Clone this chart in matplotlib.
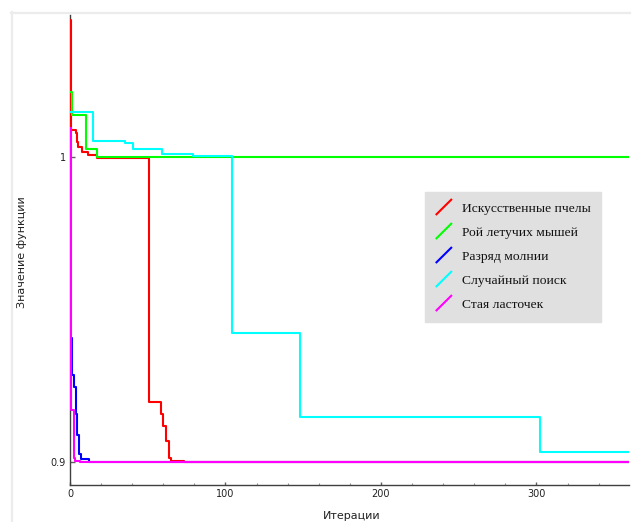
import matplotlib
matplotlib.use("Agg")
import matplotlib.pyplot as plt
from matplotlib.lines import Line2D
from matplotlib.legend_handler import HandlerLine2D
from matplotlib.ticker import FixedLocator, MultipleLocator

# ---- data (best-so-far value per iteration, step curves) ----
labels = ["Искусственные пчелы", "Рой летучих мышей", "Разряд молнии",
          "Случайный поиск", "Стая ласточек"]
colors = ["#ff0000", "#00ff00", "#0000ff", "#00ffff", "#ff00ff"]

bee_x = [0, 0.6, 3.9, 4.6, 5.4, 7.5, 11.8, 17.2, 51.1, 58.4, 60.0, 61.8, 63.7, 65.2, 73, 359.5]
bee_y = [1.045, 1.0089, 1.0079, 1.0050, 1.0034, 1.0017, 1.0007, 0.9998, 0.9198, 0.9160,
         0.9120, 0.9070, 0.9015, 0.9005, 0.9, 0.9]

bat_x = [0, 1.0, 10.4, 17.4, 359.5]
bat_y = [1.0214, 1.0138, 1.0027, 1.0, 1.0]

lightning_x = [0, 1.0, 2.4, 4.0, 4.5, 5.5, 7.1, 12.5, 359.5]
lightning_y = [0.9406, 0.9286, 0.9246, 0.9160, 0.9089, 0.9029, 0.9010, 0.9, 0.9]

random_x = [0, 14.5, 35.4, 40.7, 59.4, 79.3, 104.5, 148.2, 302.0, 359.5]
random_y = [1.0146, 1.0052, 1.0047, 1.0025, 1.0009, 1.0004, 0.9423, 0.9148, 0.9033, 0.9033]

swallow_x = [0, 0.4, 2.4, 3.4, 6.4, 359.5]
swallow_y = [1.0094, 0.9171, 0.9013, 0.9005, 0.9, 0.9]

series_x = [bee_x, bat_x, lightning_x, random_x, swallow_x]
series_y = [bee_y, bat_y, lightning_y, random_y, swallow_y]

x_ticks = [0, 100, 200, 300]
y_ticks = [0.9, 1.0]
y_tick_labels = ["0.9", "1"]


class DiagonalHandler(HandlerLine2D):
    def create_artists(self, legend, orig_handle, xdescent, ydescent,
                       width, height, fontsize, trans):
        ext = 0.35 * height
        line = Line2D([-xdescent, -xdescent + width],
                      [-ydescent - ext, -ydescent + height + ext],
                      color=orig_handle.get_color(), lw=orig_handle.get_linewidth(),
                      solid_capstyle="butt")
        line.set_transform(trans)
        return [line]


fig = plt.figure(figsize=(6.42, 5.22), dpi=100)
ax = fig.add_axes([70 / 642, 37 / 522, 559 / 642, 470 / 522])

handles = []
for xs, ys, c, lab in zip(series_x, series_y, colors, labels):
    ln, = ax.plot(xs, ys, drawstyle="steps-post", color=c, lw=1.5, label=lab, zorder=3)
    handles.append(ln)

ax.set_xlim(0, 359.5)
ax.set_ylim(0.8926, 1.0465)

for s in ["top", "right"]:
    ax.spines[s].set_visible(False)
for s in ["left", "bottom"]:
    ax.spines[s].set_color("#404040")
    ax.spines[s].set_linewidth(1.0)

ax.xaxis.set_major_locator(FixedLocator(x_ticks))
ax.xaxis.set_minor_locator(MultipleLocator(20))
ax.yaxis.set_major_locator(FixedLocator(y_ticks))
ax.set_yticklabels(y_tick_labels)
ax.tick_params(axis="x", which="major", direction="in", length=2.5, width=1,
               color="#606060", labelsize=7, pad=3.0, labelcolor="#222222")
ax.tick_params(axis="x", which="minor", direction="in", length=1.3, width=0.8,
               color="#909090")
ax.tick_params(axis="y", which="major", direction="in", length=3.8, width=1,
               color="#606060", labelsize=7, pad=3.0, labelcolor="#222222")

ax.set_xlabel("Итерации", fontsize=8, color="#222222")
ax.xaxis.set_label_coords((352 - 70) / 559, (485 - 511) / 470)
ax.set_ylabel("Значение функции", fontsize=8, color="#222222")
ax.yaxis.set_label_coords((22 - 70) / 559, (485 - 252) / 470)
ax.yaxis.label.set_va("center")

leg = ax.legend(handles=handles, loc="upper left",
                bbox_to_anchor=(425 / 642, 1 - 191.5 / 522),
                bbox_transform=fig.transFigure,
                prop={"family": "Liberation Serif", "size": 9.7},
                handler_map={Line2D: DiagonalHandler()},
                handlelength=1.2, handletextpad=0.72, borderpad=0.8,
                labelspacing=0.86, borderaxespad=0, fancybox=False,
                frameon=True, facecolor="#e0e0e0", edgecolor="#e0e0e0",
                framealpha=1.0)
for t in leg.get_texts():
    t.set_color("#111111")

# light gray panel border (top and left edges)
fig.add_artist(Line2D([11.5 / 642, 630 / 642], [1 - 12.5 / 522, 1 - 12.5 / 522],
                      transform=fig.transFigure, color="#ececec", lw=1.6))
fig.add_artist(Line2D([12 / 642, 12 / 642], [0, 1 - 12 / 522],
                      transform=fig.transFigure, color="#ececec", lw=1.6))

fig.savefig("out.png", dpi=100)
